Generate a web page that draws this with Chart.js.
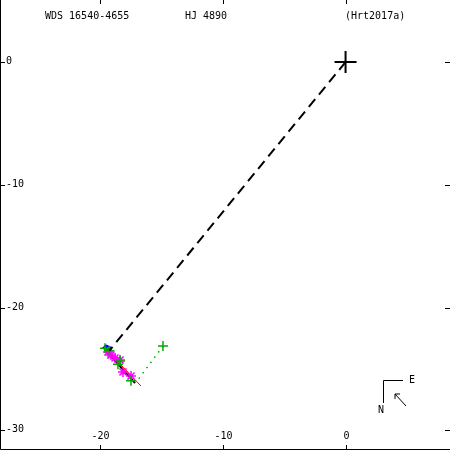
<!DOCTYPE html>
<html>
<head>
<meta charset="utf-8">
<script src="https://cdn.jsdelivr.net/npm/chart.js@4/dist/chart.umd.min.js"></script>
<style>
  html, body { margin: 0; padding: 0; background: #fff; }
  #wrap { width: 450px; height: 450px; }
</style>
</head>
<body>
<div id="wrap"><canvas id="orbitChart" width="450" height="450"></canvas></div>
<script>
// --- data (arcsec) ---
const titleTexts = ['WDS 16540-4655', 'HJ 4890', '(Hrt2017a)'];
const xTicks = [-20, -10, 0];
const yTicks = [0, -10, -20, -30];

const primary = [{ x: 0, y: 0 }];
const dashedLine = [{ x: 0, y: 0 }, { x: -19.2, y: -23.5 }];
const orbitArc = [{ x: -19.72, y: -23.21 }, { x: -17.11, y: -26.14 }];
const redArc = [{ x: -19.55, y: -23.29 }, { x: -16.63, y: -26.38 }];
const dotLine = [{ x: -14.84, y: -23.13 }, { x: -16.9, y: -25.9 }];
const lastObs = [{ x: -14.84, y: -23.13 }];
const greenObs = [
  { x: -19.55, y: -23.3 }, { x: -19.2, y: -23.5 }, { x: -18.33, y: -24.35 },
  { x: -18.5, y: -24.6 }, { x: -17.44, y: -25.95 }
];
const magentaObs = [
  { x: -19.31, y: -23.62 }, { x: -19.07, y: -23.86 }, { x: -18.74, y: -24.1 },
  { x: -18.33, y: -24.27 }, { x: -18.09, y: -25.24 }, { x: -17.44, y: -25.57 }
];
const blueObs = [{ x: -19.45, y: -23.25 }, { x: -19.25, y: -23.35 }];

const FONT = '10px "DejaVu Sans Mono", monospace';

// ticks, labels, title and compass
const framePlugin = {
  id: 'frame',
  afterDraw(chart) {
    const ctx = chart.ctx;
    const xs = chart.scales.x, ys = chart.scales.y;
    const W = chart.width, H = chart.height;
    ctx.save();
    ctx.strokeStyle = '#000';
    ctx.fillStyle = '#000';
    ctx.lineWidth = 1;
    ctx.font = FONT;

    // left + bottom axis lines
    ctx.beginPath();
    ctx.moveTo(0.5, 0); ctx.lineTo(0.5, H - 0.5); ctx.lineTo(W, H - 0.5);
    ctx.stroke();

    xTicks.forEach(v => {
      const px = Math.round(xs.getPixelForValue(v)) + 0.5;
      ctx.beginPath();
      ctx.moveTo(px, 0); ctx.lineTo(px, 4);
      ctx.moveTo(px, H - 5); ctx.lineTo(px, H);
      ctx.stroke();
      ctx.textAlign = 'center';
      ctx.textBaseline = 'middle';
      ctx.fillText(String(v), px, H - 14);
    });
    yTicks.forEach(v => {
      const py = Math.round(ys.getPixelForValue(v)) + 0.5;
      ctx.beginPath();
      ctx.moveTo(0, py); ctx.lineTo(5, py);
      ctx.moveTo(W - 5, py); ctx.lineTo(W, py);
      ctx.stroke();
      ctx.textAlign = 'left';
      ctx.textBaseline = 'middle';
      ctx.fillText(String(v), 6, py - 1);
    });

    // header
    ctx.textAlign = 'left';
    ctx.textBaseline = 'middle';
    ctx.fillText(titleTexts[0], 45, 16);
    ctx.fillText(titleTexts[1], 185, 16);
    ctx.fillText(titleTexts[2], 345, 16);

    // compass
    ctx.beginPath();
    ctx.moveTo(403, 380.5); ctx.lineTo(383.5, 380.5); ctx.lineTo(383.5, 403);
    ctx.moveTo(406, 406); ctx.lineTo(395, 394);
    ctx.moveTo(395, 394); ctx.lineTo(395, 399);
    ctx.moveTo(395, 394); ctx.lineTo(400, 394);
    ctx.stroke();
    ctx.fillText('E', 409, 380);
    ctx.fillText('N', 378, 410);
    ctx.restore();
  }
};

const ctx = document.getElementById('orbitChart').getContext('2d');
new Chart(ctx, {
  type: 'scatter',
  data: {
    datasets: [
      { data: dashedLine, showLine: true, borderColor: '#000', borderWidth: 2, borderDash: [10, 6], pointRadius: 0 },
      { data: dotLine, showLine: true, borderColor: '#00aa00', borderWidth: 1.5, borderDash: [1.5, 5], pointRadius: 0 },
      { data: greenObs, pointStyle: 'cross', pointRadius: 5, borderColor: '#00aa00', borderWidth: 1.5 },
      { data: magentaObs, pointStyle: 'star', pointRadius: 5, borderColor: '#ff00ff', borderWidth: 1.5 },
      { data: orbitArc, showLine: true, borderColor: '#000', borderWidth: 2, pointRadius: 0 },
      { data: redArc, showLine: true, borderColor: '#ff0000', borderWidth: 1, pointRadius: 0 },
      { data: blueObs, pointStyle: 'circle', pointRadius: 2.5, backgroundColor: '#0000ff', borderColor: '#0000ff' },
      { data: lastObs, pointStyle: 'cross', pointRadius: 5, borderColor: '#00aa00', borderWidth: 1.5 },
      { data: primary, pointStyle: 'cross', pointRadius: 11, borderColor: '#000', borderWidth: 2 }
    ]
  },
  options: {
    responsive: false,
    animation: false,
    events: [],
    layout: { padding: 0, autoPadding: false },
    plugins: { legend: { display: false }, tooltip: { enabled: false } },
    scales: {
      x: { type: 'linear', min: -28.09, max: 8.49, display: false },
      y: { type: 'linear', min: -31.59, max: 5.05, display: false }
    }
  },
  plugins: [framePlugin]
});
</script>
</body>
</html>
